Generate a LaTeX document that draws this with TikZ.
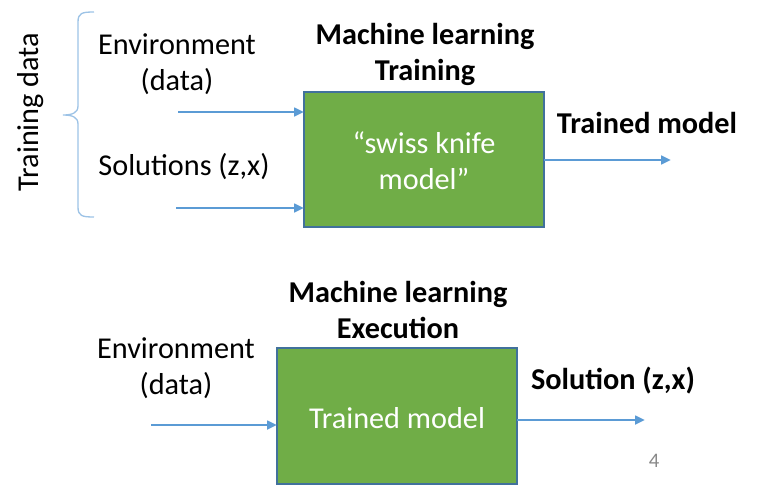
\documentclass[tikz,border=0pt]{standalone}
\usepackage{fontspec}
\setmainfont{Carlito}
\usetikzlibrary{arrows.meta}
\definecolor{boxgreen}{HTML}{70AD47}
\definecolor{boxedge}{HTML}{41719C}
\definecolor{arrowblue}{HTML}{5B9BD5}
\definecolor{bracecol}{HTML}{9DC3E6}
\definecolor{pagenum}{HTML}{898989}
\tikzset{
  lbl/.style={font=\fontsize{22.7}{27}\selectfont, inner sep=0pt, align=center},
  blbl/.style={font=\fontsize{22.7}{27}\selectfont\bfseries, inner sep=0pt, align=center},
  wlbl/.style={font=\fontsize{22.7}{27}\selectfont, text=white, inner sep=0pt, align=center},
  mlbox/.style={draw=boxedge, line width=1.5pt, fill=boxgreen},
  flow/.style={draw=arrowblue, line width=1.9pt, -{Triangle[length=7.5pt,width=6.5pt]}},
}
\begin{document}
\begin{tikzpicture}[x=0.75pt,y=-0.75pt]
\useasboundingbox (0,0) rectangle (757,500);
% boxes
\draw[mlbox] (304,92) rectangle (544,227);
\node[wlbl] (b1) at (424,161) {“swiss knife\\model”};
\coordinate (b1w1) at (304,112);
\coordinate (b1w2) at (304,208);
\coordinate (b1e) at (544,160);
\draw[mlbox] (277,348) rectangle (517,484);
\node[wlbl] (b2) at (397,418) {Trained model};
\coordinate (b2w) at (277,425);
\coordinate (b2e) at (517,420);
% arrow free ends
\coordinate (a1s) at (178,112);
\coordinate (a2s) at (176,208);
\coordinate (a3e) at (671,160);
\coordinate (a4s) at (151,425);
\coordinate (a5e) at (645,420);
\draw[flow] (a1s) -- (b1w1);
\draw[flow] (a2s) -- (b1w2);
\draw[flow] (b1e) -- (a3e);
\draw[flow] (a4s) -- (b2w);
\draw[flow] (b2e) -- (a5e);
% brace
\draw[bracecol, line width=1pt] (94,12) .. controls (82,12) and (78,13) .. (78,22)
  -- (78,106) .. controls (78,113) and (72,115) .. (63,115)
  .. controls (72,115) and (78,117) .. (78,124)
  -- (78,207) .. controls (78,216) and (82,217) .. (94,217);
% labels
\node[lbl, rotate=90] (td) at (31,112) {Training data};
\node[lbl] (env1) at (177,64) {Environment\\(data)};
\node[lbl] (sol1) at (184,167) {Solutions (z,x)};
\node[blbl] (ml1) at (425,54) {Machine learning\\Training};
\node[blbl] (tm) at (647,123) {Trained model};
\node[blbl] (ml2) at (398,310) {Machine learning\\Execution};
\node[lbl] (env2) at (176,368) {Environment\\(data)};
\node[blbl] (sol2) at (613,381) {Solution (z,x)};
\node[font=\fontsize{15.5}{18}\selectfont, text=pagenum, inner sep=0pt] (pg) at (654,461) {4};
\end{tikzpicture}
\end{document}
